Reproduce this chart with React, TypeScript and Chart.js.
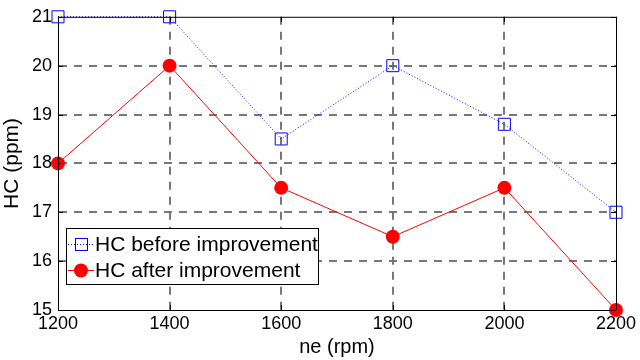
import React, { useEffect, useRef } from 'react';
import { Chart, registerables } from 'chart.js';

Chart.register(...registerables);

const rpm = [1200, 1400, 1600, 1800, 2000, 2200];
const hcBefore = [21, 21, 18.5, 20, 18.8, 17];
const hcAfter = [18, 20, 17.5, 16.5, 17.5, 15];
const seriesLabels = ['HC before improvement', 'HC after improvement'];
const xTitle = 'ne (rpm)';
const yTitle = 'HC (ppm)';
const xMin = 1200, xMax = 2200, xStep = 200;
const yMin = 15, yMax = 21, yStep = 1;

const FONT = '"Liberation Sans", Arial, Helvetica, sans-serif';
const BLUE = '#0000ff';
const RED = '#ff0000';
const GRID = '#777777';

const gridColor = (c: any) => {
  const n = c.scale && c.scale.ticks ? c.scale.ticks.length : 0;
  return c.index === 0 || c.index === n - 1 ? 'rgba(0,0,0,0)' : GRID;
};

const framePlugin = {
  id: 'frame',
  afterDatasetsDraw(chart: any) {
    const { ctx, chartArea: a, scales } = chart;
    ctx.save();
    ctx.strokeStyle = '#000';
    ctx.lineWidth = 1;
    ctx.beginPath();
    ctx.moveTo(a.left, a.top + 0.5);
    ctx.lineTo(a.right, a.top + 0.5);
    ctx.moveTo(a.right + 0.5, a.top);
    ctx.lineTo(a.right + 0.5, a.bottom);
    ctx.moveTo(a.left, a.bottom + 0.5);
    ctx.lineTo(a.right, a.bottom + 0.5);
    ctx.moveTo(a.left + 0.5, a.top);
    ctx.lineTo(a.left + 0.5, a.bottom);
    const tl = 5;
    scales.x.ticks.forEach((t: any) => {
      const px = Math.round(scales.x.getPixelForValue(t.value)) + 0.5;
      ctx.moveTo(px, a.bottom);
      ctx.lineTo(px, a.bottom - tl);
      ctx.moveTo(px, a.top);
      ctx.lineTo(px, a.top + tl);
    });
    scales.y.ticks.forEach((t: any) => {
      const py = Math.round(scales.y.getPixelForValue(t.value)) + 0.5;
      ctx.moveTo(a.left, py);
      ctx.lineTo(a.left + tl, py);
      ctx.moveTo(a.right, py);
      ctx.lineTo(a.right - tl, py);
    });
    ctx.stroke();
    ctx.restore();
  },
  afterDraw(chart: any) {
    const { ctx, chartArea: a } = chart;
    const w = 252, h = 56;
    const x0 = a.left + 8;
    const y0 = a.bottom - 26 - h;
    ctx.save();
    ctx.fillStyle = '#fff';
    ctx.fillRect(x0, y0, w, h);
    ctx.strokeStyle = '#000';
    ctx.lineWidth = 1;
    ctx.strokeRect(x0 + 0.5, y0 + 0.5, w, h);
    const rows = [y0 + 16, y0 + 42];
    ctx.strokeStyle = BLUE;
    ctx.setLineDash([1, 2]);
    ctx.beginPath();
    ctx.moveTo(x0 + 2, rows[0] + 0.5);
    ctx.lineTo(x0 + 28, rows[0] + 0.5);
    ctx.stroke();
    ctx.setLineDash([]);
    ctx.strokeRect(x0 + 15 - 6 + 0.5, rows[0] - 6 + 0.5, 12, 12);
    ctx.strokeStyle = RED;
    ctx.beginPath();
    ctx.moveTo(x0 + 2, rows[1] + 0.5);
    ctx.lineTo(x0 + 28, rows[1] + 0.5);
    ctx.stroke();
    ctx.fillStyle = RED;
    ctx.beginPath();
    ctx.arc(x0 + 15, rows[1] + 0.5, 7, 0, Math.PI * 2);
    ctx.fill();
    ctx.fillStyle = '#000';
    ctx.font = `21px ${FONT}`;
    ctx.textBaseline = 'middle';
    ctx.textAlign = 'left';
    ctx.fillText(seriesLabels[0], x0 + 29, rows[0] + 1);
    ctx.fillText(seriesLabels[1], x0 + 29, rows[1] + 1);
    ctx.restore();
  },
};

export default function App() {
  const ref = useRef<HTMLCanvasElement>(null);
  useEffect(() => {
    if (!ref.current) return;
    const chart = new Chart(ref.current, {
      type: 'line',
      data: {
        datasets: [
          {
            label: seriesLabels[0],
            data: rpm.map((x, i) => ({ x, y: hcBefore[i] })),
            borderColor: BLUE,
            borderWidth: 1,
            borderDash: [1, 2],
            pointStyle: 'rect',
            pointRadius: 8.5,
            pointBorderColor: BLUE,
            pointBackgroundColor: 'rgba(0,0,0,0)',
            pointBorderWidth: 1,
            clip: false,
            tension: 0,
          },
          {
            label: seriesLabels[1],
            data: rpm.map((x, i) => ({ x, y: hcAfter[i] })),
            borderColor: RED,
            borderWidth: 1,
            pointStyle: 'circle',
            pointRadius: 7,
            pointBorderWidth: 0,
            pointBackgroundColor: RED,
            pointBorderColor: RED,
            clip: false,
            tension: 0,
          },
        ] as any,
      },
      options: {
        animation: false,
        responsive: true,
        maintainAspectRatio: false,
        layout: { padding: { left: 0, top: 16, right: 24, bottom: 0 } },
        plugins: { legend: { display: false }, tooltip: { enabled: false } },
        scales: {
          x: {
            type: 'linear',
            min: xMin,
            max: xMax,
            afterFit: (s: any) => { s.height = 50; },
            ticks: {
              stepSize: xStep,
              color: '#000',
              padding: 3,
              font: { family: FONT, size: 18 },
              maxRotation: 0,
              callback: (v: any) => String(v),
            },
            grid: {
              color: gridColor,
              lineWidth: 2,
              drawTicks: false,
            },
            border: { display: true, color: '#000', width: 1, dash: [8, 7] } as any,
            title: {
              display: true,
              text: xTitle,
              color: '#000',
              font: { family: FONT, size: 20 },
              padding: { top: 0, bottom: 1 },
            },
          },
          y: {
            type: 'linear',
            min: yMin,
            max: yMax,
            afterFit: (s: any) => { s.width = 58; },
            ticks: {
              stepSize: yStep,
              color: '#000',
              padding: 6,
              font: { family: FONT, size: 18 },
            },
            grid: {
              color: gridColor,
              lineWidth: 2,
              drawTicks: false,
            },
            border: { display: true, color: '#000', width: 1, dash: [8, 7] } as any,
            title: {
              display: true,
              text: yTitle,
              color: '#000',
              font: { family: FONT, size: 21 },
              padding: 0,
            },
          },
        },
      },
      plugins: [framePlugin],
    });
    return () => chart.destroy();
  }, []);
  return (
    <div style={{ position: 'absolute', left: 0, top: 0, width: 640, height: 360, background: '#fff' }}>
      <canvas ref={ref} />
    </div>
  );
}
